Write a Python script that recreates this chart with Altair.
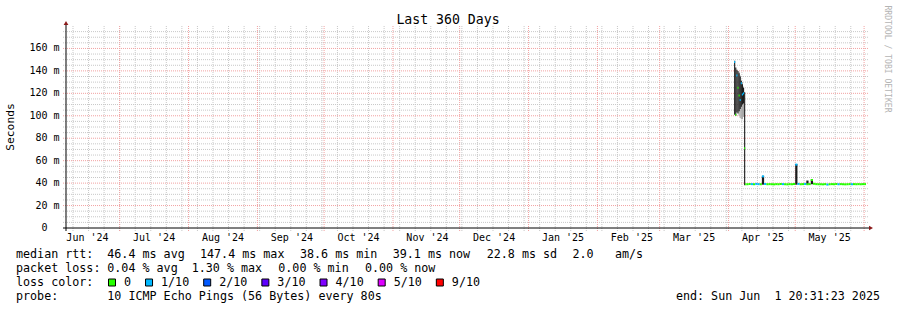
import altair as alt
import pandas as pd

# ---------------- data ----------------
title_text = "Last 360 Days"
y_title = "Seconds"
watermark = "RRDTOOL / TOBI OETIKER"
range_end = "2025-06-01T20:31:23Z"
end_label = "end: Sun Jun\u00a0\u00a01 20:31:23 2025"

y_label_values = [0, 20, 40, 60, 80, 100, 120, 140, 160]
y_label_units = ["", "m", "m", "m", "m", "m", "m", "m", "m"]

loss_levels = ["0", "1/10", "2/10", "3/10", "4/10", "5/10", "9/10"]
loss_colors = ["#26ff00", "#00b8ff", "#0059ff", "#5e00ff", "#7e00ff", "#dd00ff", "#ff0000"]

# half-day steps at the beginning of the series
early_starts = ["2025-04-03T12:00:00", "2025-04-04T00:00:00", "2025-04-04T12:00:00",
                "2025-04-05T00:00:00", "2025-04-05T12:00:00", "2025-04-06T00:00:00",
                "2025-04-06T12:00:00", "2025-04-07T00:00:00", "2025-04-07T12:00:00",
                "2025-04-08T00:00:00", "2025-04-08T12:00:00"]
early_median = [148, 101, 136, 125, 118, 114, 129, 119, 120, 71, 39.0]
early_loss = [1, 0, 1, 0, 0, 1, 1, 1, 1, 0, 0]

# daily steps from 2025-04-09 to 2025-06-01
daily_first = "2025-04-09"
daily_median = [39.0, 39.2, 39.1, 39.0, 39.3, 39.1, 39.0, 46.0, 39.2, 39.0,
                39.1, 39.0, 38.9, 39.1, 39.0, 39.2, 39.1, 39.0, 38.9, 39.1,
                39.0, 39.2, 56.5, 39.3, 39.0, 39.1, 39.2, 39.0, 39.1, 42.8,
                39.4, 39.1, 39.0, 39.0, 38.9, 39.1, 38.7, 39.0, 39.1, 39.0,
                39.2, 39.0, 39.1, 39.0, 38.9, 39.0, 39.1, 39.0, 39.1, 39.0,
                39.1, 39.0, 39.1, 39.1]
daily_loss = [0, 0, 1, 0, 1, 1, 0, 1, 1, 0,
              0, 0, 0, 0, 0, 0, 1, 0, 0, 0,
              0, 0, 1, 1, 0, 0, 1, 0, 0, 0,
              0, 0, 0, 0, 0, 0, 1, 0, 0, 0,
              0, 1, 0, 0, 0, 0, 0, 1, 0, 0,
              0, 0, 0, 0]

# dark smoke (spread of the pings)
smoke_start = ["2025-04-03T12:00:00", "2025-04-04T00:00:00", "2025-04-04T12:00:00",
               "2025-04-05T00:00:00", "2025-04-05T12:00:00", "2025-04-06T00:00:00",
               "2025-04-06T12:00:00", "2025-04-07T00:00:00", "2025-04-07T12:00:00",
               "2025-04-08T00:00:00", "2025-04-16T00:00:00", "2025-05-01T00:00:00",
               "2025-05-06T00:00:00", "2025-05-08T00:00:00"]
smoke_end = ["2025-04-04T00:00:00", "2025-04-04T12:00:00", "2025-04-05T00:00:00",
             "2025-04-05T12:00:00", "2025-04-06T00:00:00", "2025-04-06T12:00:00",
             "2025-04-07T00:00:00", "2025-04-07T12:00:00", "2025-04-08T00:00:00",
             "2025-04-08T12:00:00", "2025-04-17T00:00:00", "2025-05-02T00:00:00",
             "2025-05-07T00:00:00", "2025-05-09T00:00:00"]
smoke_lo = [101, 100, 103, 102, 104, 106, 108, 110, 111, 38, 38.6, 38.6, 38.8, 39.0]
smoke_hi = [149, 143, 141, 140, 138, 135, 131, 128, 125, 121, 46.5, 57.0, 42.3, 43.2]

# light smoke
gray_start = ["2025-04-05T12:00:00", "2025-04-06T00:00:00", "2025-04-06T12:00:00",
              "2025-04-07T00:00:00", "2025-04-07T12:00:00"]
gray_end = ["2025-04-06T00:00:00", "2025-04-06T12:00:00", "2025-04-07T00:00:00",
            "2025-04-07T12:00:00", "2025-04-08T00:00:00"]
gray_lo = [100, 98, 97, 97, 99]
gray_hi = [139, 136, 132, 130, 126]

rtt_avg, rtt_max, rtt_min, rtt_now, rtt_sd, am_s = 46.4, 147.4, 38.6, 39.1, 22.8, 2.0
loss_avg, loss_max, loss_min, loss_now = 0.04, 1.30, 0.00, 0.00
probe_pings, probe_bytes, probe_step = 10, 56, 80

# ---------------- frames ----------------
def iso(ts):
    return pd.Timestamp(ts).strftime("%Y-%m-%dT%H:%M:%SZ")

starts = [pd.Timestamp(s) for s in early_starts] + list(
    pd.date_range(daily_first, periods=len(daily_median), freq="D"))
ends = starts[1:] + [pd.Timestamp(range_end).tz_localize(None)]
median_df = pd.DataFrame({
    "t0": [iso(s) for s in starts],
    "t1": [iso(e) for e in ends],
    "med": early_median + daily_median,
    "loss": [loss_levels[v] for v in early_loss + daily_loss],
})
smoke_df = pd.DataFrame({"t0": [s + "Z" for s in smoke_start], "t1": [s + "Z" for s in smoke_end],
                         "lo": smoke_lo, "hi": smoke_hi})
gray_df = pd.DataFrame({"t0": [s + "Z" for s in gray_start], "t1": [s + "Z" for s in gray_end],
                        "lo": gray_lo, "hi": gray_hi})

weeks = pd.DataFrame({"d": [iso(d) for d in pd.date_range("2024-06-10", "2025-05-26", freq="7D")]})
months = pd.DataFrame({"d": [iso(d) for d in pd.date_range("2024-07-01", "2025-06-01", freq="MS")]})
mstarts = pd.date_range("2024-06-01", "2025-05-01", freq="MS")
month_labels = pd.DataFrame({
    "d": [iso(d + pd.Timedelta(hours=372)) for d in mstarts],
    "lab": [d.strftime("%b '%y") for d in mstarts],
})
minor_y = pd.DataFrame({"v": [v for v in range(5, 180, 5) if v % 20]})
major_y = pd.DataFrame({"v": y_label_values[1:]})
ylab_df = pd.DataFrame({"v": y_label_values, "num": [str(v) for v in y_label_values],
                        "unit": y_label_units})

# ---------------- chart ----------------
W, H = 800, 202
MONO = "DejaVu Sans Mono"
GRID = "#c8c8c8"
MGRID = "#f2a2a2"
xs = alt.Scale(type="utc", nice=False, domain=[
    alt.DateTime(year=2024, month=6, date=6, hours=20, minutes=31, seconds=23, utc=True),
    alt.DateTime(year=2025, month=6, date=1, hours=20, minutes=31, seconds=23, utc=True)])
ys = alt.Scale(domain=[0, 180], nice=False, zero=True)
one = pd.DataFrame({"k": [0]})

def X(f):
    return alt.X(f, scale=xs, axis=None)

def Y(f):
    return alt.Y(f, scale=ys, axis=None)

layers = []
layers.append(alt.Chart(weeks).mark_rule(color=GRID, strokeDash=[1, 1], strokeWidth=1)
              .encode(x=X("d:T"), y=alt.value(0), y2=alt.value(H + 3)))
layers.append(alt.Chart(minor_y).mark_rule(color=GRID, strokeDash=[1, 1], strokeWidth=1)
              .encode(y=Y("v:Q"), x=alt.value(-3), x2=alt.value(W + 2)))
layers.append(alt.Chart(months).mark_rule(color=MGRID, strokeDash=[1, 1], strokeWidth=1)
              .encode(x=X("d:T"), y=alt.value(0), y2=alt.value(H + 3)))
layers.append(alt.Chart(major_y).mark_rule(color=MGRID, strokeDash=[1, 1], strokeWidth=1)
              .encode(y=Y("v:Q"), x=alt.value(-3), x2=alt.value(W + 2)))

layers.append(alt.Chart(gray_df).mark_rect(color="#a8a8a8")
              .encode(x=X("t0:T"), x2="t1:T", y=Y("lo:Q"), y2="hi:Q"))
layers.append(alt.Chart(smoke_df).mark_rect(color="#1c1c1c")
              .encode(x=X("t0:T"), x2="t1:T", y=Y("lo:Q"), y2="hi:Q"))
layers.append(alt.Chart(median_df).mark_rule(strokeWidth=2)
              .encode(x=X("t0:T"), x2="t1:T", y=Y("med:Q"),
                      color=alt.Color("loss:N", scale=alt.Scale(domain=loss_levels, range=loss_colors),
                                      legend=None)))

# axes lines and arrows
layers.append(alt.Chart(one).mark_rule(color="black", strokeWidth=1)
              .encode(x=alt.value(-3), x2=alt.value(W + 4), y=alt.value(H)))
layers.append(alt.Chart(one).mark_rule(color="black", strokeWidth=1)
              .encode(x=alt.value(0), y=alt.value(H + 3), y2=alt.value(-3)))
layers.append(alt.Chart(one).mark_point(shape="triangle-up", filled=True, size=22, color="#8b1a1a", opacity=1)
              .encode(x=alt.value(0), y=alt.value(-3)))
layers.append(alt.Chart(one).mark_point(shape="triangle-right", filled=True, size=22, color="#8b1a1a", opacity=1)
              .encode(x=alt.value(W + 5), y=alt.value(H)))

# tick labels
layers.append(alt.Chart(month_labels).mark_text(font=MONO, fontSize=10, align="center", baseline="middle", color="black")
              .encode(x=X("d:T"), y=alt.value(H + 10), text="lab:N"))
layers.append(alt.Chart(ylab_df).mark_text(font=MONO, fontSize=10, align="right", baseline="middle", color="black")
              .encode(y=Y("v:Q"), x=alt.value(-18.5), text="num:N"))
layers.append(alt.Chart(ylab_df).mark_text(font=MONO, fontSize=10, align="left", baseline="middle", color="black")
              .encode(y=Y("v:Q"), x=alt.value(-12.5), text="unit:N"))


def txt(s, x, y, size=11.7, align="left", color="black", angle=0):
    return (alt.Chart(one)
            .mark_text(text=s, font=MONO, fontSize=size, align=align, baseline="middle", color=color, angle=angle)
            .encode(x=alt.value(x), y=alt.value(y)))


layers.append(txt(title_text, 382, -6, size=13.2, align="center"))
layers.append(txt(y_title, -55, 101, size=11.3, align="center", angle=270))
layers.append(txt(watermark, 821, 33, size=8.1, align="center", color="#b4b4b4", angle=90))

L1, L2, L3, L4 = 228.3, 242.3, 256.3, 270.0
layers += [
    txt("median rtt:", -50, L1),
    txt(f"{rtt_avg:.1f} ms avg", 41.3, L1),
    txt(f"{rtt_max:.1f} ms max", 134, L1),
    txt(f"{rtt_min:.1f} ms min", 234, L1),
    txt(f"{rtt_now:.1f} ms now", 326.7, L1),
    txt(f"{rtt_sd:.1f} ms sd", 420.7, L1),
    txt(f"{am_s:.1f}", 506.5, L1),
    txt("am/s", 549, L1),
    txt("packet loss:", -50, L2),
    txt(f"{loss_avg:.2f} % avg", 41.3, L2),
    txt(f"{loss_max:.2f} % max", 125.7, L2),
    txt(f"{loss_min:.2f} % min", 212.3, L2),
    txt(f"{loss_now:.2f} % now", 299, L2),
    txt("loss color:", -50, L3),
    txt("probe:", -50, L4),
    txt(f"{probe_pings} ICMP Echo Pings ({probe_bytes} Bytes) every {probe_step}s", 41.3, L4),
    txt(end_label, 814, L4, align="right"),
]

bx = 46.0
for lab, col in zip(loss_levels, loss_colors):
    layers.append(alt.Chart(one).mark_square(size=49, filled=True, fill=col, stroke="black",
                                             strokeWidth=1, opacity=1)
                  .encode(x=alt.value(bx), y=alt.value(L3 + 0.2)))
    layers.append(txt(lab, bx + 12, L3))
    bx += 30 + 7.04 * len(lab)

chart = (alt.layer(*layers)
         .properties(width=W, height=H, background="white",
                     autosize=alt.AutoSizeParams(type="none"),
                     padding={"left": 66, "top": 26, "right": 31, "bottom": 82})
         .configure_view(stroke="transparent"))

chart.save("out.html", embed_options={"renderer": "svg", "actions": False})
